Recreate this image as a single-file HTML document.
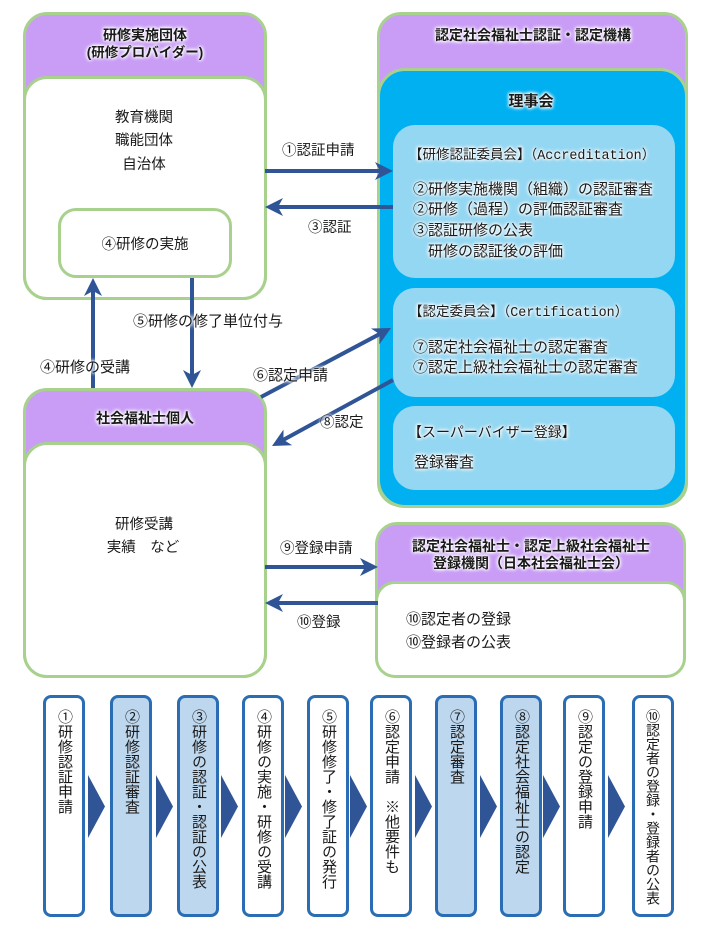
<!DOCTYPE html>
<html><head><meta charset="utf-8">
<style>
html,body{margin:0;padding:0;background:#fff;}
body{width:702px;height:942px;position:relative;overflow:hidden;font-family:"Liberation Sans","Noto Sans CJK JP",sans-serif;color:#1a1a1a;}
.b{position:absolute;box-sizing:border-box;border:3px solid #a9d18e;}
.pu{background:#c99cf6;}
.wh{background:#fff;}
.lb{position:absolute;background:#94d7f2;border-radius:22px;}
.t{position:absolute;white-space:nowrap;line-height:20px;height:20px;font-size:14.5px;z-index:5;}
.c{text-align:center;width:300px;}
.g{text-shadow:0 0 2px #fff,0 0 3px #fff,0 0 4px #fff,0 0 5px #fff;}
.hd{font-weight:bold;font-size:14px;}
.m{font-family:"Liberation Mono",monospace;font-size:13.4px;}
.v{position:absolute;top:695px;width:42px;height:222px;box-sizing:border-box;border:3px solid #2a6db5;border-radius:8px;background:#fff;writing-mode:vertical-rl;text-orientation:upright;font-size:15px;line-height:36px;padding-top:11px;color:#1a1a1a;}
.v.f{background:#bdd7ee;}
svg{position:absolute;left:0;top:0;z-index:3;}
</style></head><body>

<!-- Box A -->
<div class="b pu" style="left:23px;top:12px;width:244px;height:288px;border-radius:24px;"></div>
<div class="b wh" style="left:23px;top:76px;width:244px;height:224px;border-radius:24px;"></div>
<div class="t c g hd" style="left:-5px;top:25px;">研修実施団体</div>
<div class="t c g hd" style="left:-5px;top:43px;font-size:13.5px;">(研修プロバイダー)</div>
<div class="t c" style="left:-6px;top:108px;">教育機関</div>
<div class="t c" style="left:-6px;top:131px;">職能団体</div>
<div class="t c" style="left:-6px;top:155px;">自治体</div>
<div class="b wh" style="left:58px;top:208px;width:174px;height:70px;border-radius:18px;"></div>
<div class="t c" style="left:-5px;top:235px;">④研修の実施</div>

<!-- Box B -->
<div class="b pu" style="left:377px;top:12px;width:311px;height:495px;border-radius:24px;"></div>
<div class="b" style="left:377px;top:68px;width:311px;height:440px;border-radius:28px;background:#00b0f0;"></div>
<div class="t c g hd" style="left:383px;top:25px;">認定社会福祉士認証・認定機構</div>
<div class="t c g hd" style="left:381px;top:92px;font-size:15px;">理事会</div>
<div class="lb" style="left:393px;top:125px;width:282px;height:153px;"></div>
<div class="lb" style="left:393px;top:288px;width:282px;height:109px;"></div>
<div class="lb" style="left:393px;top:406px;width:282px;height:84px;"></div>

<div class="t g" style="left:409px;top:145px;font-size:13.5px;">【研修認証委員会】（<span class="m">Accreditation</span>）</div>
<div class="t g" style="left:413px;top:180px;font-size:15px;">②研修実施機関（組織）の認証審査</div>
<div class="t g" style="left:413px;top:200px;font-size:15px;">②研修（過程）の評価認証審査</div>
<div class="t g" style="left:413px;top:221px;font-size:15px;">③認証研修の公表</div>
<div class="t g" style="left:413px;top:242px;font-size:15px;">　研修の認証後の評価</div>

<div class="t g" style="left:409px;top:302px;font-size:13.5px;">【認定委員会】（<span class="m">Certification</span>）</div>
<div class="t g" style="left:413px;top:338px;font-size:15px;">⑦認定社会福祉士の認定審査</div>
<div class="t g" style="left:413px;top:358px;font-size:15px;">⑦認定上級社会福祉士の認定審査</div>

<div class="t g" style="left:408px;top:422px;font-size:14px;">【スーパーバイザー登録】</div>
<div class="t g" style="left:414px;top:453px;font-size:15px;">登録審査</div>

<!-- Box C -->
<div class="b pu" style="left:23px;top:388px;width:244px;height:290px;border-radius:24px;"></div>
<div class="b wh" style="left:23px;top:442px;width:244px;height:236px;border-radius:24px;"></div>
<div class="t c g hd" style="left:-5px;top:408px;">社会福祉士個人</div>
<div class="t c" style="left:-6px;top:515px;">研修受講</div>
<div class="t c" style="left:-7px;top:538px;">実績　など</div>

<!-- Box D -->
<div class="b pu" style="left:375px;top:522px;width:311px;height:156px;border-radius:22px;"></div>
<div class="b wh" style="left:375px;top:581px;width:311px;height:97px;border-radius:20px;"></div>
<div class="t c g hd" style="left:381px;top:537px;line-height:18px;height:18px;">認定社会福祉士・認定上級社会福祉士</div>
<div class="t c g hd" style="left:381px;top:554px;line-height:18px;height:18px;">登録機関（日本社会福祉士会）</div>
<div class="t" style="left:406px;top:610px;font-size:15px;">⑩認定者の登録</div>
<div class="t" style="left:406px;top:633px;font-size:15px;">⑩登録者の公表</div>

<!-- connector labels -->
<div class="t g" style="left:282px;top:141px;">①認証申請</div>
<div class="t g" style="left:308px;top:218px;">③認証</div>
<div class="t g" style="left:133px;top:312px;font-size:15px;">⑤研修の修了単位付与</div>
<div class="t g" style="left:40px;top:358px;font-size:15px;">④研修の受講</div>
<div class="t g" style="left:253px;top:366px;font-size:15px;">⑥認定申請</div>
<div class="t g" style="left:320px;top:413px;">⑧認定</div>
<div class="t g" style="left:280px;top:539px;">⑨登録申請</div>
<div class="t g" style="left:297px;top:613px;">⑩登録</div>

<svg width="702" height="942" viewBox="0 0 702 942">
<defs>
<marker id="ah" markerUnits="userSpaceOnUse" markerWidth="20" markerHeight="20" refX="8" refY="9" orient="auto">
<path d="M0,0 L18,9 L0,18 L5,9 Z" fill="#2f5597"/>
</marker>
</defs>
<g stroke="#2f5597" stroke-width="4" fill="none" marker-end="url(#ah)">
<line x1="265" y1="171" x2="383" y2="171"/>
<line x1="393" y1="207" x2="275" y2="207"/>
<line x1="93" y1="388" x2="93" y2="288"/>
<line x1="192" y1="278" x2="192" y2="378"/>
<line x1="261" y1="397" x2="382.2" y2="332.7"/>
<line x1="393" y1="380" x2="280.8" y2="441.2"/>
<line x1="265" y1="567" x2="368" y2="567"/>
<line x1="378" y1="603" x2="275" y2="603"/>
</g>
<g fill="#2f5597">
<polygon points="88,775 105,806.5 88,838"/>
<polygon points="156,775 173,806.5 156,838"/>
<polygon points="221,775 238,806.5 221,838"/>
<polygon points="285,775 302,806.5 285,838"/>
<polygon points="350,775 367,806.5 350,838"/>
<polygon points="415,775 432,806.5 415,838"/>
<polygon points="480,775 497,806.5 480,838"/>
<polygon points="543,775 560,806.5 543,838"/>
<polygon points="608,775 625,806.5 608,838"/>
</g>
</svg>

<!-- bottom flow -->
<div class="v" style="left:43px;">①研修認証申請</div>
<div class="v f" style="left:110px;">②研修認証審査</div>
<div class="v f" style="left:177px;">③研修の認証・認証の公表</div>
<div class="v" style="left:242px;">④研修の実施・研修の受講</div>
<div class="v" style="left:307px;">⑤研修修了・修了証の発行</div>
<div class="v" style="left:370px;">⑥認定申請　※他要件も</div>
<div class="v f" style="left:435px;">⑦認定審査</div>
<div class="v f" style="left:500px;">⑧認定社会福祉士の認定</div>
<div class="v" style="left:563px;">⑨認定の登録申請</div>
<div class="v" style="left:632px;font-size:14px;">⑩認定者の登録・登録者の公表</div>

</body></html>
